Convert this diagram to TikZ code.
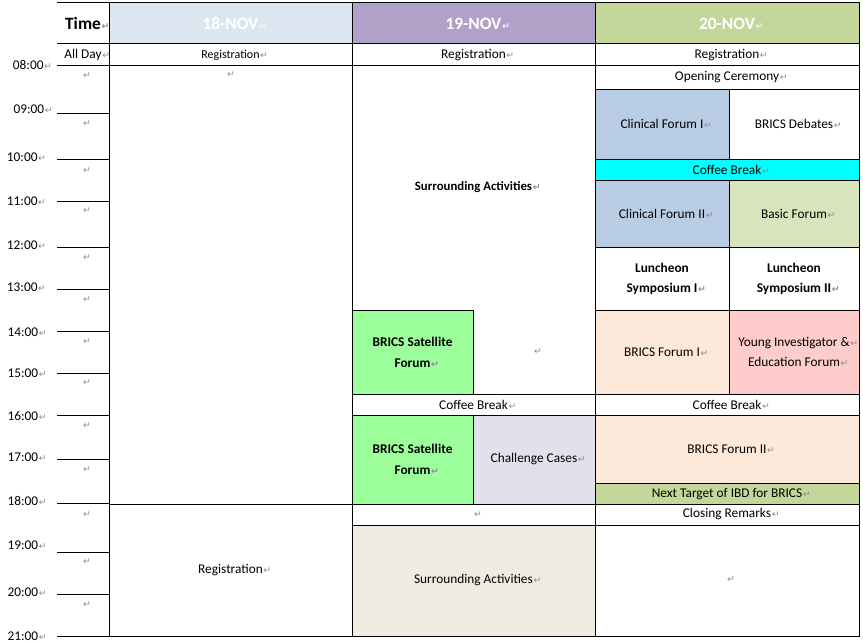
\documentclass[tikz,border=0pt]{standalone}
\usepackage{fontspec}
\setmainfont{Carlito}
\newfontfamily\dejavu{DejaVu Sans}
\definecolor{hBlue}{HTML}{DCE6F1}
\definecolor{hPurple}{HTML}{B1A0C7}
\definecolor{hGreen}{HTML}{C4D79B}
\definecolor{cfBlue}{HTML}{B8CCE4}
\definecolor{basicGreen}{HTML}{D8E4BC}
\definecolor{peach}{HTML}{FDE9D9}
\definecolor{pink}{HTML}{FFCCCC}
\definecolor{satGreen}{HTML}{9CFF9C}
\definecolor{lavender}{HTML}{E4DFEC}
\definecolor{sand}{HTML}{EEECE1}
\definecolor{cbCyan}{HTML}{00FFFF}
\definecolor{markgray}{HTML}{8C8C8C}
\definecolor{markwhite}{HTML}{F4F4F4}
\newcommand\pmk{\rlap{\kern0.5pt\textcolor{markgray}{\dejavu\fontsize{7}{7}\selectfont ↵}}}
\newcommand\pmkw{\rlap{\kern0.5pt\textcolor{markwhite}{\dejavu\fontsize{7}{7}\selectfont ↵}}}
\newcommand\cellbox[7]{%
  \node[cell,#6,minimum width={(#4-#2)*0.75pt},minimum height={(#5-#3)*0.75pt}]
    (#1) at ({(#2+#4)/2},{(#3+#5)/2}) {#7};}
\begin{document}
\begin{tikzpicture}[x=0.75pt,y=-0.75pt,
  cell/.style={draw=black,line width=0.75pt,inner sep=0pt,align=center,
    font=\fontsize{10}{15.6}\selectfont},
  plain/.style={draw=none},
  head/.style={text=white,font=\bfseries\fontsize{13}{15}\selectfont},
  bold/.style={font=\bfseries\fontsize{10}{15.6}\selectfont},
  tlab/.style={inner sep=0pt,anchor=west,font=\fontsize{10}{12}\selectfont},
  mk/.style={inner sep=0pt,text=markgray,font=\dejavu\fontsize{7}{7}\selectfont},
  grid/.style={line width=0.75pt,black}]
\useasboundingbox (0,0) rectangle (863,642);
% ---------- header ----------
\cellbox{hTime}{57}{3}{109}{44}{plain}{\bfseries\fontsize{13}{15}\selectfont Time\pmk}
\cellbox{h18}{109}{3}{352}{44}{fill=hBlue,head}{18-NOV\pmkw}
\cellbox{h19}{352}{3}{595}{44}{fill=hPurple,head}{19-NOV\pmkw}
\cellbox{h20}{595}{3}{859}{44}{fill=hGreen,head}{20-NOV\pmkw}
% ---------- all day row ----------
\cellbox{tAll}{57}{44}{109}{66}{plain}{All Day\pmk}
\cellbox{r18}{109}{44}{352}{66}{font=\fontsize{9}{11}\selectfont}{Registration\pmk}
\cellbox{r19}{352}{44}{595}{66}{}{Registration\pmk}
\cellbox{r20}{595}{44}{859}{66}{}{Registration\pmk}
% ---------- 18-NOV ----------
\cellbox{e18}{109}{66}{352}{504}{}{}
\node[mk] (e18m) at (231,75) {↵};
\cellbox{reg18}{109}{504}{352}{636}{}{Registration\pmk}
% ---------- 19-NOV ----------
\cellbox{sa1}{352}{66}{595}{394}{}{}
\node[inner sep=0pt,font=\bfseries\fontsize{9.6}{12}\selectfont] (sa1t) at (473.5,187.5) {Surrounding Activities\pmk};
\cellbox{sat1}{352}{310}{473}{394}{fill=satGreen,bold}{BRICS Satellite\\Forum\pmk}
\node[mk] (e19am) at (538,352) {↵};
\cellbox{cb19}{352}{394}{595}{415}{}{Coffee Break\pmk}
\cellbox{sat2}{352}{415}{473}{504}{fill=satGreen,bold}{BRICS Satellite\\Forum\pmk}
\cellbox{cc}{473}{415}{595}{504}{fill=lavender}{Challenge Cases\pmk}
\cellbox{e19b}{352}{504}{595}{525}{}{}
\node[mk] (e19bm) at (478,515) {↵};
\cellbox{sa2}{352}{525}{595}{636}{fill=sand}{Surrounding Activities\pmk}
% ---------- 20-NOV ----------
\cellbox{oc}{595}{66}{859}{89}{}{Opening Ceremony\pmk}
\cellbox{cf1}{595}{89}{729}{159}{fill=cfBlue}{Clinical Forum I\pmk}
\cellbox{bd}{729}{89}{859}{159}{}{BRICS Debates\pmk}
\cellbox{cb20a}{595}{159}{859}{180}{fill=cbCyan}{Coffee Break\pmk}
\cellbox{cf2}{595}{180}{729}{247}{fill=cfBlue}{Clinical Forum II\pmk}
\cellbox{bf}{729}{180}{859}{247}{fill=basicGreen}{Basic Forum\pmk}
\cellbox{ls1}{595}{247}{729}{310}{font=\bfseries\fontsize{10}{15}\selectfont}{Luncheon\\Symposium I\pmk}
\cellbox{ls2}{729}{247}{859}{310}{font=\bfseries\fontsize{10}{15}\selectfont}{Luncheon\\Symposium II\pmk}
\cellbox{bfa}{595}{310}{729}{394}{fill=peach}{BRICS Forum I\pmk}
\cellbox{yi}{729}{310}{859}{394}{fill=pink}{Young Investigator \&\pmk\\Education Forum\pmk}
\cellbox{cb20b}{595}{394}{859}{415}{}{Coffee Break\pmk}
\cellbox{bfb}{595}{415}{859}{483.5}{fill=peach}{BRICS Forum II\pmk}
\cellbox{nt}{595}{483.5}{859}{504}{fill=hGreen}{Next Target of IBD for BRICS\pmk}
\cellbox{cr}{595}{504}{859}{525}{}{Closing Remarks\pmk}
\cellbox{e20}{595}{525}{859}{636}{}{}
\node[mk] (e20m) at (731,580) {↵};
% ---------- time column lines ----------
\foreach \yy in {3,44,66,113,159,201,247,289,331,373,415,459,503.5,552,594,636}
  \draw[grid] (57,\yy) -- (109,\yy);
\draw[grid] (109,3) -- (109,636);
% ---------- time column paragraph marks ----------
\foreach \yy [count=\i] in {76,124,170.5,211,257.5,299.5,341.5,383,425.5,470,514.5,561.5,604.5}
  \node[mk] (tm\i) at (87,\yy) {↵};
% ---------- time labels ----------
\node[tlab] (t08) at (12.7,65) {08:00\pmk};
\node[tlab] (t09) at (13.3,109) {09:00\pmk};
\node[tlab] (t10) at (6.7,157.5) {10:00\pmk};
\node[tlab] (t11) at (6.7,201.5) {11:00\pmk};
\node[tlab] (t12) at (6.7,245) {12:00\pmk};
\node[tlab] (t13) at (6.7,287.5) {13:00\pmk};
\node[tlab] (t14) at (7.3,332) {14:00\pmk};
\node[tlab] (t15) at (7.3,373.5) {15:00\pmk};
\node[tlab] (t16) at (7.3,416.5) {16:00\pmk};
\node[tlab] (t17) at (7.3,457) {17:00\pmk};
\node[tlab] (t18) at (7.3,501) {18:00\pmk};
\node[tlab] (t19) at (7.3,545.5) {19:00\pmk};
\node[tlab] (t20) at (7.3,592.5) {20:00\pmk};
\node[tlab] (t21) at (7.3,636) {21:00\pmk};
\end{tikzpicture}
\end{document}
